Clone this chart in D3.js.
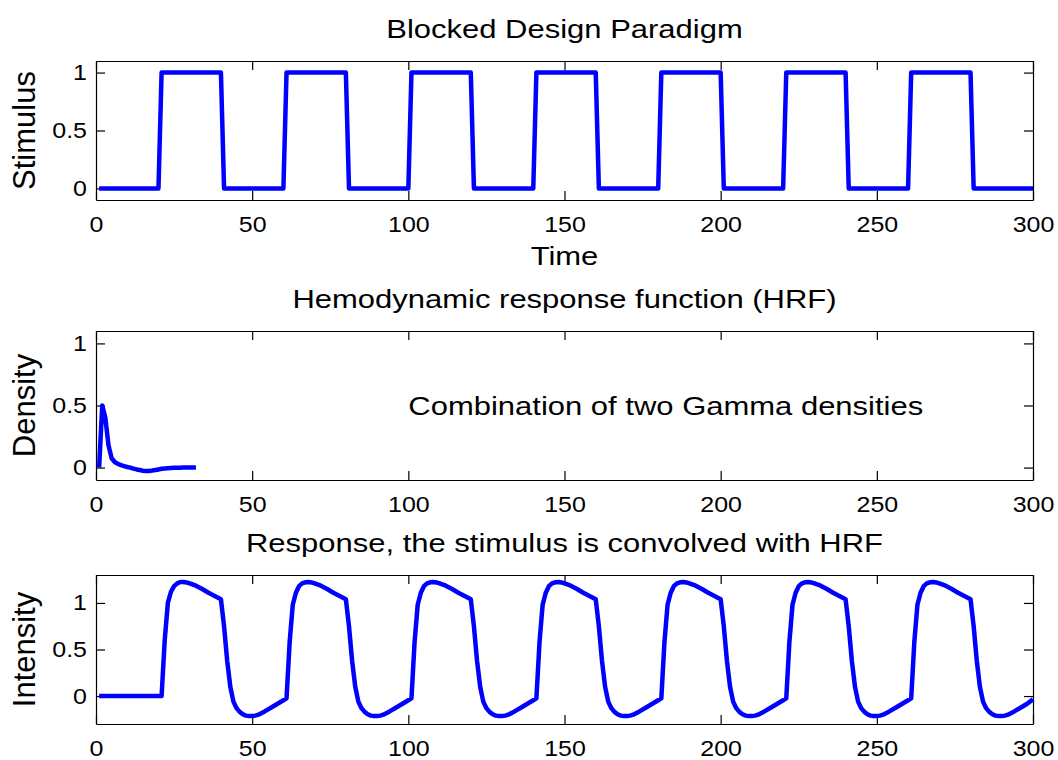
<!DOCTYPE html>
<html>
<head>
<meta charset="utf-8">
<script src="https://cdn.jsdelivr.net/npm/d3@7"></script>
<style>
	body { margin: 0; background: #fff; }
	text { font-family: Arial, "Liberation Sans", sans-serif; fill: #000; }
</style>
</head>
<body>
<main></main>
<script>
// tick values / labels
const xTicks = [0, 50, 100, 150, 200, 250, 300];
const yTicks = [0, 0.5, 1];
const yTickLabels = ['0', '0.5', '1'];

// panel texts
const titles = ['Blocked Design Paradigm', 'Hemodynamic response function (HRF)', 'Response, the stimulus is convolved with HRF'];
const yLabels = ['Stimulus', 'Density', 'Intensity'];
const xLabel = 'Time';
const note = 'Combination of two Gamma densities';

// stimulus: on/off blocks [time, value]
const stimulus = [
	[1, 0], [20, 0], [21, 1], [40, 1], [41, 0],
	[60, 0], [61, 1], [80, 1], [81, 0],
	[100, 0], [101, 1], [120, 1], [121, 0],
	[140, 0], [141, 1], [160, 1], [161, 0],
	[180, 0], [181, 1], [200, 1], [201, 0],
	[220, 0], [221, 1], [240, 1], [241, 0],
	[260, 0], [261, 1], [280, 1], [281, 0],
	[300, 0]
];

// HRF samples [time, density]
const hrf = [
	[1, 0], [2, 0.5], [3, 0.4], [4, 0.18], [5, 0.075], [6, 0.045], [7, 0.03], [8, 0.02],
	[9, 0.012], [10, 0.005], [11, 0], [12, -0.008], [13, -0.015], [14, -0.02], [15, -0.025],
	[16, -0.027], [17, -0.027], [18, -0.024], [19, -0.02], [20, -0.015], [21, -0.01],
	[22, -0.007], [23, -0.005], [24, -0.003], [25, -0.002], [26, -0.001], [27, -0.001],
	[28, 0], [29, 0], [30, 0], [31, 0], [32, 0]
];

// convolved response [time, intensity]
const response = [
	[1, 0], [21, 0], [22, 0.6], [23, 1.0], [24, 1.12], [25, 1.18], [26, 1.21], [27, 1.225], [28, 1.225], [29, 1.22], [30, 1.21], [32, 1.185], [34, 1.15], [36, 1.11], [38, 1.075], [40, 1.04], [41, 0.75], [42, 0.38], [43, 0.1], [44, -0.06], [45, -0.13], [46, -0.17], [47, -0.195], [48, -0.21], [49, -0.215], [50, -0.215], [51, -0.21], [52, -0.2], [54, -0.165], [56, -0.125], [58, -0.085], [60, -0.045], [61, -0.025],
	[62, 0.58], [63, 0.98], [64, 1.11], [65, 1.18], [66, 1.21], [67, 1.222], [68, 1.225], [69, 1.22], [70, 1.21], [72, 1.185], [74, 1.15], [76, 1.11], [78, 1.075], [80, 1.04], [81, 0.75], [82, 0.38], [83, 0.1], [84, -0.06], [85, -0.13], [86, -0.17], [87, -0.195], [88, -0.21], [89, -0.215], [90, -0.215], [91, -0.21], [92, -0.2], [94, -0.165], [96, -0.125], [98, -0.085], [100, -0.045], [101, -0.025],
	[102, 0.58], [103, 0.98], [104, 1.11], [105, 1.18], [106, 1.21], [107, 1.222], [108, 1.225], [109, 1.22], [110, 1.21], [112, 1.185], [114, 1.15], [116, 1.11], [118, 1.075], [120, 1.04], [121, 0.75], [122, 0.38], [123, 0.1], [124, -0.06], [125, -0.13], [126, -0.17], [127, -0.195], [128, -0.21], [129, -0.215], [130, -0.215], [131, -0.21], [132, -0.2], [134, -0.165], [136, -0.125], [138, -0.085], [140, -0.045], [141, -0.025],
	[142, 0.58], [143, 0.98], [144, 1.11], [145, 1.18], [146, 1.21], [147, 1.222], [148, 1.225], [149, 1.22], [150, 1.21], [152, 1.185], [154, 1.15], [156, 1.11], [158, 1.075], [160, 1.04], [161, 0.75], [162, 0.38], [163, 0.1], [164, -0.06], [165, -0.13], [166, -0.17], [167, -0.195], [168, -0.21], [169, -0.215], [170, -0.215], [171, -0.21], [172, -0.2], [174, -0.165], [176, -0.125], [178, -0.085], [180, -0.045], [181, -0.025],
	[182, 0.58], [183, 0.98], [184, 1.11], [185, 1.18], [186, 1.21], [187, 1.222], [188, 1.225], [189, 1.22], [190, 1.21], [192, 1.185], [194, 1.15], [196, 1.11], [198, 1.075], [200, 1.04], [201, 0.75], [202, 0.38], [203, 0.1], [204, -0.06], [205, -0.13], [206, -0.17], [207, -0.195], [208, -0.21], [209, -0.215], [210, -0.215], [211, -0.21], [212, -0.2], [214, -0.165], [216, -0.125], [218, -0.085], [220, -0.045], [221, -0.025],
	[222, 0.58], [223, 0.98], [224, 1.11], [225, 1.18], [226, 1.21], [227, 1.222], [228, 1.225], [229, 1.22], [230, 1.21], [232, 1.185], [234, 1.15], [236, 1.11], [238, 1.075], [240, 1.04], [241, 0.75], [242, 0.38], [243, 0.1], [244, -0.06], [245, -0.13], [246, -0.17], [247, -0.195], [248, -0.21], [249, -0.215], [250, -0.215], [251, -0.21], [252, -0.2], [254, -0.165], [256, -0.125], [258, -0.085], [260, -0.045], [261, -0.025],
	[262, 0.58], [263, 0.98], [264, 1.11], [265, 1.18], [266, 1.21], [267, 1.222], [268, 1.225], [269, 1.22], [270, 1.21], [272, 1.185], [274, 1.15], [276, 1.11], [278, 1.075], [280, 1.04], [281, 0.75], [282, 0.38], [283, 0.1], [284, -0.06], [285, -0.13], [286, -0.17], [287, -0.195], [288, -0.21], [289, -0.215], [290, -0.215], [291, -0.21], [292, -0.2], [294, -0.165], [296, -0.125], [298, -0.085], [300, -0.035]
];

const width = 1058;
const height = 760;
const left = 96;
const right = 1033;
const tickLen = 9;
const squash = 0.83;     // text in the reference is vertically squashed
const tickSquash = 0.88;

var svg = d3.select('main')
	.append('svg')
	.attr('width', width)
	.attr('height', height);

const xScale = d3.scaleLinear()
	.domain([0, 300])
	.range([left, right]);

const cx = (left + right) / 2;

function styleAxis(g) {
	g.attr('font-family', null).attr('font-size', 25);
	g.select('.domain').attr('stroke', '#000').attr('stroke-width', 1.2);
	g.selectAll('.tick line').attr('stroke', '#000').attr('stroke-width', 1.2);
}

function drawPanel(top, bottom, yDomain, data, title, yLabel) {
	const yScale = d3.scaleLinear()
		.domain(yDomain)
		.range([bottom, top]);

	// bottom axis with labels
	const xb = svg.append('g')
		.attr('transform', `translate(0, ${bottom})`)
		.call(d3.axisBottom(xScale).tickValues(xTicks).tickSize(-tickLen).tickSizeOuter(0));
	styleAxis(xb);
	xb.selectAll('text')
		.attr('dy', null)
		.attr('y', 32 / tickSquash)
		.attr('transform', `scale(1, ${tickSquash})`);

	// top axis, ticks only
	const xt = svg.append('g')
		.attr('transform', `translate(0, ${top})`)
		.call(d3.axisTop(xScale).tickValues(xTicks).tickSize(-tickLen).tickSizeOuter(0).tickFormat(''));
	styleAxis(xt);

	// left axis with labels
	const yl = svg.append('g')
		.attr('transform', `translate(${left}, 0)`)
		.call(d3.axisLeft(yScale).tickValues(yTicks).tickSize(-tickLen).tickSizeOuter(0)
			.tickPadding(9)
			.tickFormat((d, i) => yTickLabels[i]));
	styleAxis(yl);
	yl.selectAll('text')
		.attr('transform', `scale(1, ${tickSquash})`);

	// right axis, ticks only
	const yr = svg.append('g')
		.attr('transform', `translate(${right}, 0)`)
		.call(d3.axisRight(yScale).tickValues(yTicks).tickSize(-tickLen).tickSizeOuter(0).tickFormat(''));
	styleAxis(yr);

	svg.append('path')
		.datum(data)
		.attr('fill', 'none')
		.attr('stroke', '#0000ff')
		.attr('stroke-width', 4.5)
		.attr('stroke-linejoin', 'round')
		.attr('d', d3.line()
			.x((d) => xScale(d[0]))
			.y((d) => yScale(d[1])));

	svg.append('text')
		.attr('transform', `translate(${cx}, ${top - 23.5}) scale(1, ${squash})`)
		.attr('text-anchor', 'middle')
		.attr('font-size', 31)
		.text(title);

	svg.append('text')
		.attr('transform', `translate(35, ${(top + bottom) / 2}) rotate(-90)`)
		.attr('text-anchor', 'middle')
		.attr('font-size', 31)
		.text(yLabel);

	return yScale;
}

drawPanel(61, 200, [-0.1, 1.1], stimulus, titles[0], yLabels[0]);

svg.append('text')
	.attr('transform', `translate(${cx}, 265) scale(1, ${squash})`)
	.attr('text-anchor', 'middle')
	.attr('font-size', 31)
	.text(xLabel);

const yHrf = drawPanel(331, 480, [-0.1, 1.1], hrf, titles[1], yLabels[1]);

svg.append('text')
	.attr('transform', `translate(${xScale(100)}, ${yHrf(0.5) + 9}) scale(1, ${squash})`)
	.attr('text-anchor', 'start')
	.attr('font-size', 31)
	.text(note);

drawPanel(575, 724, [-0.3, 1.3], response, titles[2], yLabels[2]);
</script>
</body>
</html>
